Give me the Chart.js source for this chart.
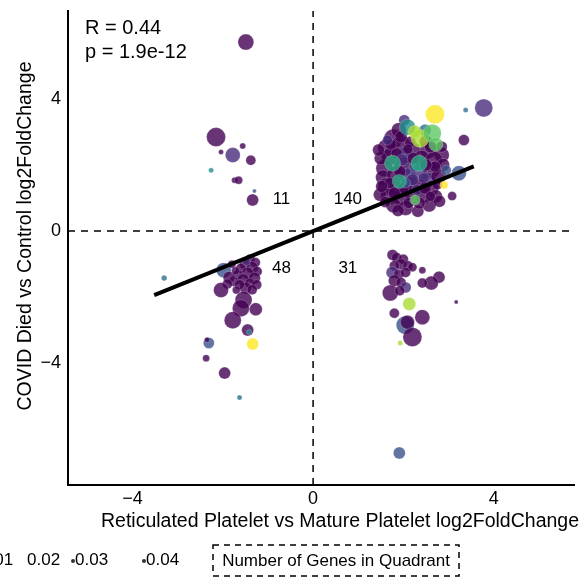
<!DOCTYPE html>
<html>
<head>
<meta charset="utf-8">
<script src="https://cdn.jsdelivr.net/npm/chart.js@4.4.1/dist/chart.umd.min.js"></script>
<style>
  html, body { margin: 0; padding: 0; background: #fff; }
</style>
</head>
<body>
<canvas id="chart" width="585" height="587"></canvas>
<script>
// each point: [x log2FC, y log2FC, size, colour level 0-8]
const upperLeft = [
  [-1.49, 5.71, 8, 0], [-2.15, 2.84, 9.5, 0], [-2.04, 2.39, 2.5, 0], [-1.78, 2.30, 7.5, 1],
  [-1.56, 2.57, 3, 0], [-1.38, 2.14, 5, 0], [-2.26, 1.84, 2.5, 4], [-1.74, 1.54, 3, 0],
  [-1.65, 1.54, 4, 0], [-1.30, 1.21, 2, 2], [-1.34, 0.94, 6, 0]
]
const upperRight = [
  [2.70, 3.53, 9.5, 8], [3.78, 3.72, 9, 1], [3.38, 3.66, 2.5, 3], [3.34, 2.75, 5.5, 0],
  [2.09, 3.14, 8, 4], [2.02, 3.35, 5.5, 1], [1.78, 2.80, 9.5, 0], [2.48, 3.05, 6, 3],
  [2.37, 2.80, 9, 7], [2.64, 2.96, 9, 6], [2.72, 2.62, 7, 6], [2.55, 2.45, 8.5, 0],
  [1.62, 2.52, 8.5, 0], [1.95, 2.60, 9.5, 0], [2.20, 2.45, 8, 0], [2.85, 2.30, 7.5, 0],
  [1.70, 2.25, 8.5, 0], [2.05, 2.30, 8.5, 1], [2.40, 2.20, 8, 0], [2.68, 2.15, 8.5, 0],
  [1.76, 2.05, 8, 5], [2.35, 2.05, 8, 5], [1.58, 1.90, 8.5, 0], [2.00, 1.95, 9.5, 0],
  [2.62, 1.85, 8.5, 0], [2.88, 2.00, 6.5, 0], [1.55, 1.62, 7.5, 0], [1.82, 1.70, 8.5, 0],
  [2.10, 1.65, 8.5, 1], [2.35, 1.75, 8.5, 1], [2.55, 1.55, 7.5, 1], [2.78, 1.65, 7.5, 0],
  [1.91, 1.50, 7, 5], [1.62, 1.35, 8.5, 0], [1.88, 1.25, 8.5, 0], [2.15, 1.40, 8.5, 0],
  [2.38, 1.35, 7.5, 0], [2.62, 1.30, 7.5, 0], [1.68, 1.05, 8.5, 0], [1.95, 1.02, 8.5, 0],
  [2.18, 1.15, 7.5, 0], [2.45, 1.10, 8.5, 0], [2.72, 1.05, 6.5, 0], [1.78, 0.78, 7.5, 0],
  [2.05, 0.70, 7.5, 0], [2.26, 0.94, 5, 6], [2.57, 0.79, 7, 0], [2.32, 0.60, 6, 0],
  [3.23, 1.75, 7.5, 2], [2.95, 1.84, 5, 2], [2.90, 1.39, 4, 8], [3.08, 1.06, 4.5, 0],
  [2.80, 0.90, 6, 0], [1.50, 2.20, 6.5, 0], [1.48, 1.10, 6.5, 0], [2.50, 2.70, 6.5, 0],
  [2.25, 3.00, 6.5, 7], [1.90, 3.05, 7.5, 0], [1.85, 2.35, 5.5, 0], [2.25, 1.95, 5.5, 2],
  [2.45, 1.60, 5.5, 1], [2.00, 1.30, 5.5, 0], [1.70, 1.45, 5.5, 0], [2.30, 1.25, 5.5, 1],
  [2.12, 0.85, 5.5, 0], [1.60, 0.88, 5.5, 0], [2.70, 1.95, 5.5, 0], [2.15, 2.70, 5.5, 0],
  [1.72, 2.62, 5.5, 0], [2.85, 2.55, 5.5, 0], [1.45, 2.45, 6, 0], [1.52, 1.35, 6, 0],
  [1.98, 2.15, 6, 1], [2.22, 2.20, 6, 0], [2.50, 2.00, 6, 0], [1.92, 1.80, 6, 0],
  [2.20, 1.55, 6, 1], [2.48, 1.30, 6, 0], [1.80, 1.15, 6, 0], [2.05, 1.45, 5, 2],
  [2.60, 2.55, 6, 0], [1.95, 2.85, 6, 0], [2.35, 0.85, 6, 0], [1.88, 0.62, 6, 0],
  [2.10, 2.48, 5, 0], [2.75, 1.40, 5, 0], [1.65, 2.75, 5, 1], [2.60, 1.05, 5, 0]
]
const lowerLeft = [
  [-3.30, -1.42, 2.8, 3], [-1.98, -1.18, 7.5, 2], [-1.40, -0.85, 5, 0], [-1.28, -0.95, 5, 0],
  [-1.52, -1.00, 5, 0], [-1.35, -1.10, 6, 0], [-1.60, -1.12, 5, 0], [-1.24, -1.22, 5, 0],
  [-1.45, -1.27, 6, 0], [-1.66, -1.32, 5, 0], [-1.30, -1.42, 6, 0], [-1.55, -1.47, 6, 0],
  [-1.40, -1.57, 5, 0], [-1.76, -1.52, 5, 0], [-1.25, -1.62, 5, 0], [-1.50, -1.72, 6, 0],
  [-1.63, -1.62, 5, 0], [-1.35, -1.77, 5, 0], [-1.86, -1.40, 6, 0], [-1.72, -1.20, 4, 0],
  [-1.80, -1.00, 4, 0], [-1.90, -1.60, 5, 0], [-1.48, -0.92, 4, 1], [-1.70, -1.78, 4, 0],
  [-2.04, -1.78, 7.5, 0], [-1.54, -2.08, 8.5, 0], [-1.60, -2.33, 8.5, 0], [-1.27, -2.36, 6.5, 0],
  [-1.78, -2.69, 8.5, 0], [-1.45, -2.99, 6, 0], [-1.42, -3.05, 2.5, 4], [-1.34, -3.41, 6, 8],
  [-2.31, -3.38, 5.5, 2], [-2.35, -3.28, 2.5, 0], [-2.37, -3.84, 3.5, 0], [-1.96, -4.29, 6, 0],
  [-1.63, -5.03, 2.5, 3]
]
const lowerRight = [
  [1.76, -0.72, 5.5, 0], [1.85, -0.80, 5, 0], [2.00, -0.85, 5, 0], [1.95, -1.00, 5.5, 0],
  [1.80, -1.05, 5, 0], [2.10, -1.05, 5, 0], [2.20, -1.09, 4.5, 0], [1.75, -1.25, 6, 1],
  [1.90, -1.30, 5, 0], [2.05, -1.25, 5, 0], [2.42, -1.18, 3.5, 0], [1.80, -1.50, 6, 0],
  [1.95, -1.55, 5, 0], [2.05, -1.70, 5.5, 1], [1.71, -1.87, 8, 0], [1.92, -1.80, 5, 0],
  [2.79, -1.39, 6, 0], [2.62, -1.57, 7, 0], [2.42, -1.57, 5, 0], [3.17, -2.14, 2, 0],
  [2.13, -2.20, 6.5, 7], [1.80, -2.48, 5, 0], [2.04, -2.84, 9, 2], [2.09, -2.75, 7, 0],
  [2.42, -2.60, 7.5, 0], [2.20, -3.20, 9.5, 0], [1.93, -3.38, 2.5, 7], [1.91, -6.70, 6, 2]
]

const quadrantCounts = ['11', '140', '48', '31']
const xTicks = [-4, 0, 4]
const yTicks = [-4, 0, 4]
const fitSlope = 0.55
const fitIntercept = 0.0
const fitRange = [-3.52, 3.56]
const sizeLegend = ['0.01', '0.02', '0.03', '0.04']

const viridis = ['#440154', '#472c7a', '#3b518b', '#2c718e', '#21908d',
                 '#27ad81', '#5cc863', '#aadc32', '#fde725']

function rgba(hex, a) {
  const n = parseInt(hex.slice(1), 16)
  return `rgba(${n >> 16}, ${(n >> 8) & 255}, ${n & 255}, ${a})`
}

// lighter colours are drawn last so they stay visible in the dense clusters
const allPoints = [...upperLeft, ...lowerLeft, ...lowerRight, ...upperRight]
  .map((p, i) => [p, i])
  .sort((a, b) => (a[0][3] > 2) - (b[0][3] > 2) || a[1] - b[1])
  .map(e => e[0])
const bubbleData = allPoints.map(p => ({ x: p[0], y: p[1], r: p[2] }))
const bubbleColors = allPoints.map(p => rgba(viridis[p[3]], 0.8))

const FONT = "'Liberation Sans', Arial, sans-serif"

const textPlugin = {
  id: 'texts',
  afterDraw(chart) {
    const { ctx, scales: { x, y } } = chart
    ctx.save()
    ctx.fillStyle = '#000'
    ctx.font = `20px ${FONT}`
    ctx.textBaseline = 'middle'
    ctx.textAlign = 'left'
    ctx.fillText('R = 0.44', 85, 28)
    ctx.fillText('p = 1.9e-12', 85, 52)

    // quadrant counts
    ctx.font = `17px ${FONT}`
    ctx.textAlign = 'center'
    const qx = [-0.70, 0.77, -0.70, 0.77]
    const qy = [0.97, 0.97, -1.12, -1.12]
    quadrantCounts.forEach((t, i) => {
      ctx.fillText(t, x.getPixelForValue(qx[i]), y.getPixelForValue(qy[i]))
    })

    // axis titles
    ctx.font = `19.5px ${FONT}`
    ctx.fillText('Reticulated Platelet vs Mature Platelet log2FoldChange', 340, 522)
    ctx.save()
    ctx.translate(26, 236)
    ctx.rotate(-Math.PI / 2)
    ctx.fillText('COVID Died vs Control log2FoldChange', 0, 0)
    ctx.restore()

    // size legend (cut at the left edge like the original)
    ctx.font = `17px ${FONT}`
    ctx.textAlign = 'left'
    const lx = [-20, 27, 75, 146]
    sizeLegend.forEach((t, i) => {
      ctx.fillText(t, lx[i], 560)
      if (i >= 2) {
        ctx.beginPath()
        ctx.fillStyle = '#333'
        ctx.arc(lx[i] - 2, 561, 2, 0, Math.PI * 2)
        ctx.fill()
        ctx.fillStyle = '#000'
      }
    })

    // dashed legend title box
    ctx.setLineDash([6, 5])
    ctx.lineWidth = 1.5
    ctx.strokeStyle = '#000'
    ctx.strokeRect(213, 545, 246, 31)
    ctx.setLineDash([])
    ctx.textAlign = 'center'
    ctx.fillText('Number of Genes in Quadrant', 336, 561)
    ctx.restore()
  }
}

const minus = v => String(v).replace('-', '\u2212')

new Chart(document.getElementById('chart'), {
  type: 'bubble',
  data: {
    datasets: [
      {
        type: 'line',
        data: fitRange.map(v => ({ x: v, y: fitSlope * v + fitIntercept })),
        borderColor: '#000',
        borderWidth: 4,
        pointRadius: 0,
        order: 0
      },
      {
        type: 'line',
        data: [{ x: 0, y: -7.67 }, { x: 0, y: 6.65 }],
        borderColor: '#000',
        borderWidth: 1.5,
        borderDash: [7, 6],
        pointRadius: 0,
        order: 1
      },
      {
        type: 'line',
        data: [{ x: -5.43, y: 0 }, { x: 5.8, y: 0 }],
        borderColor: '#000',
        borderWidth: 1.5,
        borderDash: [7, 6],
        pointRadius: 0,
        order: 1
      },
      {
        data: bubbleData,
        backgroundColor: bubbleColors,
        borderColor: 'rgba(255,255,255,0.35)',
        borderWidth: 0.6,
        order: 2
      }
    ]
  },
  options: {
    responsive: false,
    animation: false,
    layout: { padding: { left: 15, right: 4, top: 11, bottom: 55 } },
    plugins: { legend: { display: false }, tooltip: { enabled: false } },
    scales: {
      x: {
        type: 'linear',
        min: -5.43,
        max: 5.8,
        afterBuildTicks: s => { s.ticks = xTicks.map(v => ({ value: v })) },
        afterFit: s => { s.height = 47; s.paddingLeft = 0; s.paddingRight = 0 },
        grid: { display: false, drawTicks: false },
        border: { color: '#000', width: 2 },
        ticks: { color: '#000', padding: 3, font: { size: 18, family: FONT }, callback: minus }
      },
      y: {
        type: 'linear',
        min: -7.67,
        max: 6.65,
        afterBuildTicks: s => { s.ticks = yTicks.map(v => ({ value: v })) },
        afterFit: s => { s.width = 53; s.paddingTop = 0; s.paddingBottom = 0 },
        grid: { display: false, drawTicks: false },
        border: { color: '#000', width: 2 },
        ticks: { color: '#000', padding: 7, font: { size: 18, family: FONT }, callback: minus }
      }
    }
  },
  plugins: [textPlugin]
})
</script>
</body>
</html>
